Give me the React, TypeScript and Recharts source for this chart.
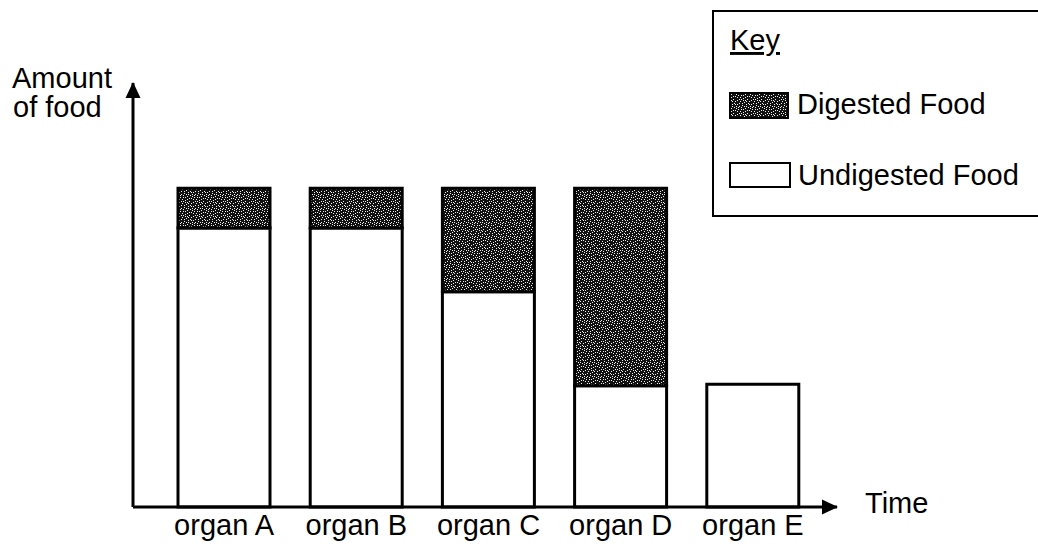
import { BarChart, Bar, XAxis, YAxis, Legend } from "recharts";

const categories = ["organ A", "organ B", "organ C", "organ D", "organ E"];
const undigestedFood = [87.5, 87.5, 67.5, 38, 38.5];
const digestedFood = [12.5, 12.5, 32.5, 62, 0];

const data = categories.map((organ, i) => ({
  organ,
  undigested: undigestedFood[i],
  digested: digestedFood[i],
}));

const FONT = "'Liberation Sans', Arial, Helvetica, sans-serif";
const FONT_SIZE = 29;

// speckle positions for the stippled "digested" fill
const speckles = [
  [1, 1], [5, 0], [9, 2], [12, 1], [3, 4], [7, 5], [11, 6], [0, 7],
  [4, 8], [8, 9], [13, 9], [2, 11], [6, 12], [10, 12], [12, 13], [5, 3],
  [9, 10], [1, 13], [3, 1], [7, 2], [11, 3], [13, 5], [1, 5], [5, 6],
  [9, 7], [2, 9], [6, 10], [11, 10], [4, 12], [8, 13], [0, 3], [13, 12],
  [10, 0], [6, 7], [3, 6],
];

function StippleDefs() {
  return (
    <defs>
      <pattern id="stipple" width={14} height={14} patternUnits="userSpaceOnUse">
        <rect width={14} height={14} fill="#111" />
        {speckles.map(([x, y], i) => (
          <rect key={i} x={x} y={y} width={1} height={1} fill="#f0f0f0" />
        ))}
      </pattern>
      <marker
        id="arrowHead"
        markerWidth={16}
        markerHeight={16}
        refX={15}
        refY={8}
        orient="auto-start-reverse"
        markerUnits="userSpaceOnUse"
      >
        <path d="M0,0.5 L16,8 L0,15.5 z" fill="#000" />
      </marker>
    </defs>
  );
}

function OrganTick({ x, y, payload }: any) {
  return (
    <text
      x={x}
      y={y + 28}
      textAnchor="middle"
      fontSize={FONT_SIZE}
      fontFamily={FONT}
      fill="#000"
    >
      {payload.value}
    </text>
  );
}

function TimeLabel({ viewBox }: any) {
  const vb = viewBox || { x: 133, y: 507, width: 704 };
  return (
    <text x={vb.x + vb.width + 28} y={vb.y + 6} fontSize={FONT_SIZE} fontFamily={FONT} fill="#000">
      Time
    </text>
  );
}

function AmountLabel() {
  return (
    <text fontSize={FONT_SIZE} fontFamily={FONT} fill="#000">
      <tspan x={12} y={88}>Amount</tspan>
      <tspan x={13} y={117}>of food</tspan>
    </text>
  );
}

// key box runs off the right edge of the picture, so no right border
function KeyBox() {
  return (
    <svg width={400} height={207} style={{ display: "block" }}>
      <rect x={0} y={0} width={400} height={207} fill="#fff" />
      <path d="M420,1 L1,1 L1,206 L420,206" fill="none" stroke="#000" strokeWidth={2} />
      <text x={18} y={40} fontSize={FONT_SIZE} fontFamily={FONT} fill="#000" textDecoration="underline">
        Key
      </text>
      <rect x={18} y={83} width={58} height={25} fill="url(#stipple)" stroke="#000" strokeWidth={2} />
      <text x={85} y={104} fontSize={FONT_SIZE} fontFamily={FONT} fill="#000">
        Digested Food
      </text>
      <rect x={18} y={153} width={60} height={24} fill="#fff" stroke="#000" strokeWidth={2} />
      <text x={86} y={175} fontSize={FONT_SIZE} fontFamily={FONT} fill="#000">
        Undigested Food
      </text>
    </svg>
  );
}

export default function App() {
  return (
    <div
      style={{
        position: "absolute",
        left: 0,
        top: 0,
        width: 1038,
        height: 550,
        overflow: "hidden",
        background: "#fff",
        fontFamily: FONT,
      }}
    >
      <BarChart
        width={1038}
        height={550}
        data={data}
        margin={{ top: 83, right: 201, bottom: 0, left: 0 }}
      >
        <StippleDefs />
        <XAxis
          dataKey="organ"
          height={43}
          padding={{ left: 25, right: 18 }}
          tickLine={false}
          tickSize={0}
          tickMargin={0}
          tick={<OrganTick />}
          interval={0}
          axisLine={{ stroke: "#000", strokeWidth: 3, markerEnd: "url(#arrowHead)" }}
          label={(props: any) => <TimeLabel {...props} />}
        />
        <YAxis
          width={133}
          domain={[0, 133]}
          tick={false}
          tickLine={false}
          axisLine={{ stroke: "#000", strokeWidth: 3, markerStart: "url(#arrowHead)" }}
          label={() => <AmountLabel />}
        />
        <Legend
          layout="vertical"
          align="center"
          verticalAlign="middle"
          wrapperStyle={{ left: 712, top: 10, width: 400, height: 207 }}
          content={() => <KeyBox />}
        />
        <Bar
          dataKey="undigested"
          stackId="food"
          barSize={92}
          fill="#fff"
          stroke="#000"
          strokeWidth={3}
          isAnimationActive={false}
        />
        <Bar
          dataKey="digested"
          stackId="food"
          barSize={92}
          fill="url(#stipple)"
          stroke="#000"
          strokeWidth={3}
          isAnimationActive={false}
        />
      </BarChart>
    </div>
  );
}
